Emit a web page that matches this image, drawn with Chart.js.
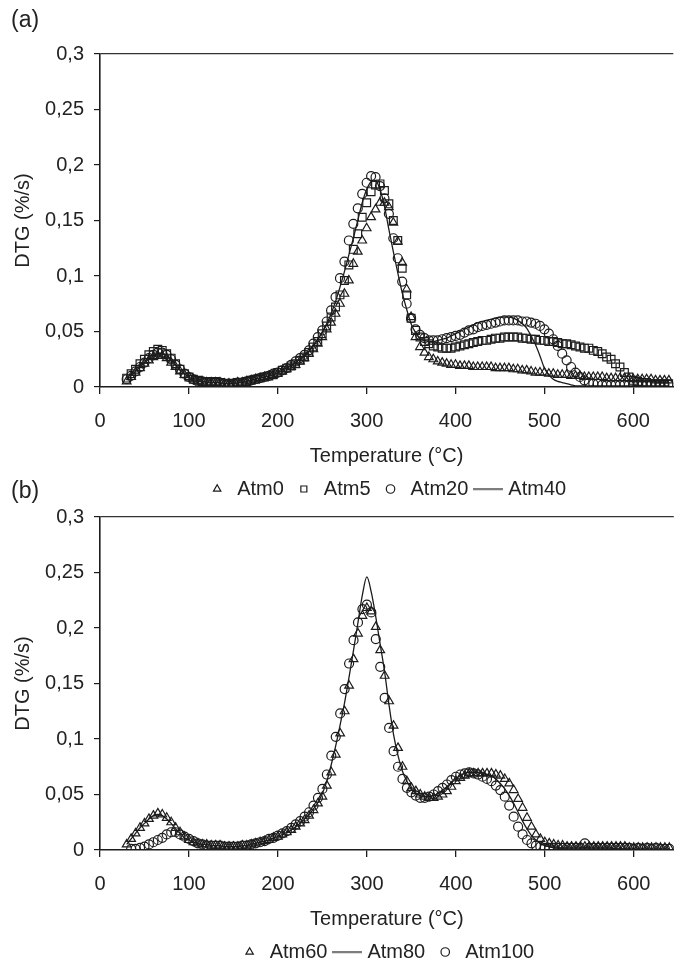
<!DOCTYPE html>
<html>
<head>
<meta charset="utf-8">
<script src="https://cdn.jsdelivr.net/npm/chart.js@4.4.1/dist/chart.umd.min.js"></script>
<style>
  body { margin: 0; background: #fff; }
  #wrap { position: relative; width: 674px; height: 964px; background: #fff; overflow: hidden; }
  #wrap canvas { position: absolute; left: 0; }
  .panel { position: absolute; left: 11px; font: 23px "Liberation Sans", Arial, sans-serif; color: #222; }
</style>
</head>
<body>
<div id="wrap">
  <canvas id="chartA" width="680" height="511" style="top:0"></canvas>
  <canvas id="chartB" width="680" height="511" style="top:463px"></canvas>
  <div class="panel" style="top:6px">(a)</div>
  <div class="panel" style="top:477px">(b)</div>
</div>
<script>
// temperature grid (°C) shared by every series
const temps = [
  30, 35, 40, 45, 50, 55, 60, 65, 70, 75,
  80, 85, 90, 95, 100, 105, 110, 115, 120, 125,
  130, 135, 140, 145, 150, 155, 160, 165, 170, 175,
  180, 185, 190, 195, 200, 205, 210, 215, 220, 225,
  230, 235, 240, 245, 250, 255, 260, 265, 270, 275,
  280, 285, 290, 295, 300, 305, 310, 315, 320, 325,
  330, 335, 340, 345, 350, 355, 360, 365, 370, 375,
  380, 385, 390, 395, 400, 405, 410, 415, 420, 425,
  430, 435, 440, 445, 450, 455, 460, 465, 470, 475,
  480, 485, 490, 495, 500, 505, 510, 515, 520, 525,
  530, 535, 540, 545, 550, 555, 560, 565, 570, 575,
  580, 585, 590, 595, 600, 605, 610, 615, 620, 625,
  630, 635, 640
];

const xTicks = [0, 100, 200, 300, 400, 500, 600];

// panel (a)
const atm0 = [
  0.005, 0.009, 0.013, 0.017, 0.021, 0.024, 0.027, 0.028, 0.028, 0.026,
  0.022, 0.018, 0.014, 0.011, 0.009, 0.007, 0.005, 0.005, 0.004, 0.004,
  0.004, 0.004, 0.003, 0.003, 0.003, 0.004, 0.004, 0.005, 0.006, 0.007,
  0.008, 0.009, 0.010, 0.011, 0.012, 0.014, 0.016, 0.018, 0.020, 0.023,
  0.026, 0.030, 0.034, 0.039, 0.045, 0.052, 0.058, 0.066, 0.075, 0.084,
  0.096, 0.111, 0.122, 0.132, 0.143, 0.153, 0.160, 0.166, 0.166, 0.162,
  0.148, 0.131, 0.112, 0.088, 0.063, 0.045, 0.036, 0.031, 0.027, 0.025,
  0.023, 0.022, 0.021, 0.020, 0.020, 0.019, 0.019, 0.019, 0.018, 0.018,
  0.018, 0.018, 0.018, 0.017, 0.017, 0.017, 0.017, 0.016, 0.016, 0.015,
  0.015, 0.014, 0.013, 0.013, 0.013, 0.012, 0.012, 0.011, 0.011, 0.011,
  0.010, 0.010, 0.010, 0.009, 0.009, 0.009, 0.009, 0.009, 0.008, 0.008,
  0.008, 0.008, 0.008, 0.008, 0.007, 0.007, 0.007, 0.007, 0.007, 0.006,
  0.006, 0.006, 0.006
];
const atm5 = [
  0.008, 0.012, 0.016, 0.021, 0.025, 0.029, 0.032, 0.034, 0.033, 0.030,
  0.026, 0.021, 0.016, 0.012, 0.009, 0.007, 0.006, 0.005, 0.005, 0.005,
  0.005, 0.004, 0.003, 0.003, 0.003, 0.004, 0.004, 0.005, 0.006, 0.007,
  0.008, 0.009, 0.010, 0.011, 0.013, 0.015, 0.017, 0.019, 0.021, 0.024,
  0.027, 0.031, 0.036, 0.041, 0.048, 0.055, 0.063, 0.072, 0.083, 0.096,
  0.110, 0.124, 0.138, 0.153, 0.166, 0.176, 0.182, 0.183, 0.177, 0.165,
  0.150, 0.132, 0.107, 0.083, 0.062, 0.051, 0.045, 0.041, 0.039, 0.037,
  0.036, 0.035, 0.035, 0.035, 0.036, 0.037, 0.038, 0.039, 0.040, 0.041,
  0.042, 0.042, 0.043, 0.044, 0.044, 0.045, 0.045, 0.045, 0.045, 0.044,
  0.044, 0.043, 0.043, 0.042, 0.042, 0.041, 0.041, 0.040, 0.039, 0.039,
  0.038, 0.037, 0.036, 0.035, 0.035, 0.033, 0.032, 0.030, 0.027, 0.025,
  0.021, 0.018, 0.013, 0.009, 0.006, 0.005, 0.004, 0.004, 0.003, 0.003,
  0.003, 0.003, 0.003
];
const atm20 = [
  0.007, 0.010, 0.014, 0.018, 0.022, 0.026, 0.029, 0.031, 0.031, 0.029,
  0.025, 0.020, 0.016, 0.012, 0.009, 0.007, 0.005, 0.005, 0.004, 0.004,
  0.004, 0.004, 0.003, 0.003, 0.003, 0.004, 0.004, 0.005, 0.006, 0.007,
  0.008, 0.009, 0.010, 0.012, 0.013, 0.015, 0.017, 0.020, 0.023, 0.026,
  0.029, 0.033, 0.039, 0.045, 0.051, 0.059, 0.069, 0.081, 0.098, 0.113,
  0.132, 0.147, 0.161, 0.174, 0.184, 0.190, 0.189, 0.181, 0.170, 0.156,
  0.134, 0.116, 0.095, 0.075, 0.062, 0.052, 0.047, 0.044, 0.042, 0.042,
  0.042, 0.043, 0.044, 0.045, 0.046, 0.047, 0.049, 0.051, 0.052, 0.054,
  0.055, 0.056, 0.057, 0.058, 0.059, 0.060, 0.060, 0.060, 0.060, 0.059,
  0.059, 0.058, 0.057, 0.055, 0.052, 0.048, 0.043, 0.037, 0.030, 0.024,
  0.018, 0.013, 0.009, 0.006, 0.004, 0.003, 0.003, 0.002, 0.002, 0.002,
  0.002, 0.002, 0.002, 0.002, 0.002, 0.002, 0.002, 0.002, 0.002, 0.002,
  0.002, 0.002, 0.002
];
const atm40 = [
  0.006, 0.010, 0.014, 0.018, 0.022, 0.025, 0.028, 0.030, 0.030, 0.028,
  0.024, 0.020, 0.015, 0.012, 0.009, 0.007, 0.005, 0.005, 0.004, 0.004,
  0.004, 0.004, 0.003, 0.003, 0.003, 0.004, 0.004, 0.005, 0.006, 0.007,
  0.008, 0.009, 0.010, 0.011, 0.013, 0.015, 0.017, 0.019, 0.022, 0.025,
  0.028, 0.032, 0.037, 0.043, 0.049, 0.057, 0.066, 0.077, 0.090, 0.104,
  0.119, 0.134, 0.150, 0.166, 0.178, 0.185, 0.186, 0.178, 0.163, 0.142,
  0.122, 0.103, 0.085, 0.070, 0.057, 0.049, 0.044, 0.042, 0.041, 0.041,
  0.042, 0.043, 0.044, 0.046, 0.048, 0.050, 0.052, 0.054, 0.056, 0.058,
  0.059, 0.060, 0.061, 0.062, 0.063, 0.063, 0.063, 0.062, 0.060, 0.057,
  0.053, 0.046, 0.038, 0.028, 0.017, 0.011, 0.007, 0.005, 0.004, 0.003,
  0.002, 0.001, 0.001, 0.001, 0.001, 0.001, 0.001, 0.001, 0.001, 0.001,
  0.001, 0.001, 0.001, 0.001, 0.001, 0.001, 0.001, 0.001, 0.001, 0.001,
  0.001, 0.001, 0.001
];

// panel (b)
const atm60 = [
  0.005, 0.010, 0.015, 0.020, 0.024, 0.028, 0.031, 0.033, 0.032, 0.029,
  0.025, 0.020, 0.016, 0.012, 0.009, 0.007, 0.006, 0.005, 0.005, 0.004,
  0.004, 0.004, 0.003, 0.003, 0.003, 0.003, 0.004, 0.004, 0.005, 0.006,
  0.007, 0.008, 0.009, 0.011, 0.012, 0.014, 0.016, 0.018, 0.021, 0.024,
  0.027, 0.031, 0.036, 0.042, 0.048, 0.058, 0.070, 0.086, 0.105, 0.125,
  0.148, 0.172, 0.195, 0.211, 0.218, 0.215, 0.201, 0.180, 0.157, 0.134,
  0.112, 0.092, 0.075, 0.062, 0.056, 0.053, 0.050, 0.048, 0.047, 0.047,
  0.048, 0.050, 0.053, 0.057, 0.062, 0.065, 0.067, 0.069, 0.069, 0.069,
  0.069, 0.069, 0.069, 0.068, 0.067, 0.064, 0.060, 0.054, 0.046, 0.038,
  0.029, 0.021, 0.014, 0.010, 0.007, 0.006, 0.005, 0.004, 0.004, 0.003,
  0.003, 0.003, 0.003, 0.003, 0.003, 0.003, 0.003, 0.003, 0.003, 0.003,
  0.003, 0.003, 0.003, 0.002, 0.002, 0.002, 0.002, 0.002, 0.002, 0.002,
  0.002, 0.002, 0.002
];
const atm80 = [
  0.005, 0.010, 0.015, 0.020, 0.024, 0.028, 0.031, 0.032, 0.031, 0.028,
  0.024, 0.019, 0.015, 0.011, 0.009, 0.007, 0.006, 0.005, 0.005, 0.004,
  0.004, 0.004, 0.003, 0.003, 0.003, 0.003, 0.004, 0.004, 0.005, 0.006,
  0.007, 0.008, 0.009, 0.011, 0.012, 0.014, 0.016, 0.018, 0.021, 0.024,
  0.028, 0.032, 0.037, 0.043, 0.051, 0.062, 0.077, 0.094, 0.113, 0.133,
  0.156, 0.180, 0.205, 0.230, 0.246, 0.232, 0.210, 0.185, 0.160, 0.130,
  0.104, 0.085, 0.071, 0.062, 0.055, 0.051, 0.049, 0.048, 0.048, 0.049,
  0.051, 0.054, 0.057, 0.061, 0.064, 0.067, 0.069, 0.070, 0.070, 0.070,
  0.069, 0.068, 0.067, 0.064, 0.060, 0.055, 0.049, 0.042, 0.034, 0.026,
  0.019, 0.013, 0.009, 0.006, 0.004, 0.003, 0.002, 0.002, 0.002, 0.002,
  0.002, 0.002, 0.002, 0.002, 0.002, 0.002, 0.002, 0.002, 0.002, 0.002,
  0.001, 0.001, 0.001, 0.001, 0.001, 0.001, 0.001, 0.001, 0.001, 0.001,
  0.001, 0.001, 0.001
];
const atm100 = [
  null, 0.001, 0.001, 0.002, 0.003, 0.005, 0.007, 0.009, 0.011, 0.014,
  0.016, 0.016, 0.014, 0.012, 0.010, 0.008, 0.006, 0.005, 0.004, 0.004,
  0.004, 0.004, 0.003, 0.003, 0.003, 0.003, 0.004, 0.004, 0.005, 0.006,
  0.007, 0.008, 0.010, 0.011, 0.013, 0.015, 0.017, 0.020, 0.023, 0.026,
  0.030, 0.034, 0.040, 0.047, 0.055, 0.068, 0.085, 0.102, 0.123, 0.145,
  0.168, 0.189, 0.205, 0.217, 0.221, 0.214, 0.190, 0.165, 0.137, 0.110,
  0.089, 0.075, 0.064, 0.056, 0.052, 0.049, 0.047, 0.047, 0.048, 0.050,
  0.053, 0.056, 0.059, 0.063, 0.066, 0.068, 0.069, 0.070, 0.069, 0.068,
  0.066, 0.064, 0.062, 0.058, 0.054, 0.048, 0.040, 0.030, 0.021, 0.014,
  0.009, 0.006, 0.004, 0.003, 0.002, 0.002, 0.002, 0.002, 0.002, 0.002,
  0.002, 0.002, 0.002, 0.006, 0.002, 0.002, 0.002, 0.002, 0.002, 0.002,
  0.002, 0.002, 0.002, 0.002, 0.001, 0.002, 0.001, 0.002, 0.001, 0.002,
  0.001, 0.001, 0.001
];

const INK = '#1c1c1c';
Chart.defaults.font.family = '"Liberation Sans", Arial, Helvetica, sans-serif';
Chart.defaults.font.size = 20;
Chart.defaults.color = '#222';

// short horizontal stroke used as the legend symbol of line series
const lineSymbol = document.createElement('canvas');
lineSymbol.width = 30;
lineSymbol.height = 3;
(function () {
  const c = lineSymbol.getContext('2d');
  c.strokeStyle = INK;
  c.lineWidth = 1.3;
  c.beginPath();
  c.moveTo(0, 1.5);
  c.lineTo(30, 1.5);
  c.stroke();
})();

function toPoints(values) {
  return temps.map((t, i) => ({ x: t, y: values[i] })).filter(p => p.y !== null);
}

function markers(label, values, style, radius) {
  return {
    label: label,
    data: toPoints(values),
    showLine: false,
    pointStyle: style,
    pointRadius: radius,
    pointBorderWidth: 1.2,
    pointBorderColor: INK,
    pointBackgroundColor: 'rgba(0,0,0,0)',
    borderColor: INK,
    backgroundColor: 'rgba(0,0,0,0)',
    borderWidth: 1,
  };
}

function curve(label, values) {
  return {
    label: label,
    data: toPoints(values),
    showLine: true,
    cubicInterpolationMode: 'monotone',
    pointRadius: 0,
    pointStyle: lineSymbol,
    borderColor: INK,
    backgroundColor: 'rgba(0,0,0,0)',
    borderWidth: 1.3,
  };
}

function commaLabel(v) {
  return String(+v.toFixed(2)).replace('.', ',');
}

function drawPanel(id, datasets) {
  const ctx = document.getElementById(id).getContext('2d');
  return new Chart(ctx, {
    type: 'scatter',
    data: { datasets: datasets },
    options: {
      responsive: false,
      animation: false,
      events: [],
      layout: { padding: { top: 54, right: 0, bottom: 2, left: 0 } },
      scales: {
        x: {
          type: 'linear',
          min: 0,
          max: 645,
          afterBuildTicks: scale => { scale.ticks = xTicks.map(v => ({ value: v })); },
          ticks: { padding: 15, color: '#222', callback: v => String(v) },
          grid: { drawOnChartArea: false, tickLength: 7, tickColor: INK, lineWidth: 1.3 },
          border: { color: INK, width: 1.6 },
          title: { display: true, text: 'Temperature (°C)', color: '#222', padding: { top: -4, bottom: 1 } },
        },
        y: {
          min: 0,
          max: 0.3,
          afterFit: scale => { scale.width = 100; },
          ticks: { stepSize: 0.05, padding: 10, color: '#222', callback: v => commaLabel(v) },
          grid: {
            drawOnChartArea: true,
            color: c => (c.tick && Math.abs(c.tick.value - 0.3) < 1e-9 ? '#333' : 'rgba(0,0,0,0)'),
            lineWidth: 1.2,
            tickLength: 6,
            tickColor: INK,
          },
          border: { color: INK, width: 1.6 },
          title: { display: true, text: 'DTG (%/s)', color: '#222', padding: { top: 11, bottom: 0 } },
        },
      },
      plugins: {
        tooltip: { enabled: false },
        legend: {
          position: 'bottom',
          fullSize: false,
          labels: {
            usePointStyle: true,
            boxHeight: 6,
            padding: 10,
            color: '#222',
          },
        },
      },
    },
  });
}

drawPanel('chartA', [
  markers('Atm0', atm0, 'triangle', 5),
  markers('Atm5', atm5, 'rect', 5.5),
  markers('Atm20', atm20, 'circle', 4.5),
  curve('Atm40', atm40),
]);

drawPanel('chartB', [
  markers('Atm60', atm60, 'triangle', 5),
  curve('Atm80', atm80),
  markers('Atm100', atm100, 'circle', 4.5),
]);
</script>
</body>
</html>
